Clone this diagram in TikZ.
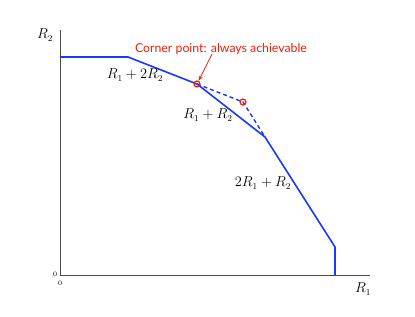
\documentclass[tikz,border=0pt]{standalone}
\usepackage{fontspec}
\newfontfamily\labelfont{Lato}
\usetikzlibrary{arrows.meta}
\definecolor{curveblue}{RGB}{25,55,255}
\definecolor{notered}{RGB}{240,30,10}
\tikzset{
  axis/.style={draw=black!70, line width=0.7pt},
  region/.style={draw=curveblue, line width=1.6pt, line join=miter},
  dashregion/.style={draw=curveblue, line width=1.4pt, dash pattern=on 4pt off 3pt},
  corner/.style={circle, draw=notered, line width=1.2pt, minimum size=6pt, inner sep=0pt},
  mlabel/.style={font=\fontsize{13.5}{15}\selectfont, inner sep=0pt},
  tiny/.style={font=\fontsize{7}{8}\selectfont, inner sep=0pt},
  note/.style={font=\labelfont\fontsize{12.3}{14}\selectfont, text=notered, inner sep=0pt}
}
\begin{document}
\begin{tikzpicture}[x=1pt,y=-1pt]
\useasboundingbox (0,0) rectangle (415,316);
% axes
\coordinate (o) at (60,275);
\coordinate (ytop) at (60,30);
\coordinate (xend) at (370,275);
\draw[axis] (ytop) -- (o) -- (xend);
% region boundary
\coordinate (p0) at (60,57);
\coordinate (p1) at (128,57);
\coordinate (p2) at (197,84);
\coordinate (p3) at (265,137);
\coordinate (p4) at (335,247);
\coordinate (p5) at (335,275);
\draw[region] (p0) -- (p1) -- (p2) -- (p3) -- (p4) -- (p5);
\coordinate (q) at (243,102);
\draw[dashregion] (p2) -- (q) -- (p3);
\node[corner] (c1) at (p2) {};
\node[corner] (c2) at (q) {};
% note
\node[note] (nt) at (221,49) {Corner point: always achievable};
\coordinate (ns) at (212,54);
\draw[draw=notered, line width=0.8pt, -{Stealth[length=5pt,width=4pt]}] (ns) -- (c1);
% labels
\node[mlabel] (r2) at (45,35) {$R_2$};
\node[mlabel] (r1) at (363,289) {$R_1$};
\node[tiny] (z1) at (55,274) {0};
\node[tiny] (z2) at (60,283) {0};
\node[mlabel] (l1) at (135,75) {$R_1+2R_2$};
\node[mlabel] (l2) at (208,115) {$R_1+R_2$};
\node[mlabel] (l3) at (263,183) {$2R_1+R_2$};
\end{tikzpicture}
\end{document}
